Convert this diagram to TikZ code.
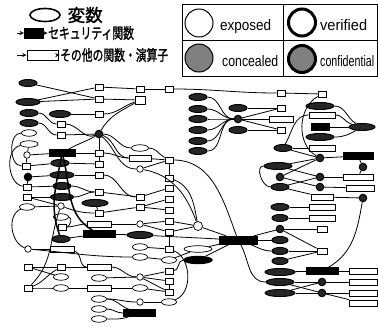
\documentclass[tikz,border=0pt]{standalone}
\usepackage{graphicx}
\usepackage{fontspec}
\setmainfont{Liberation Sans}
\newfontfamily\jpfont[FakeBold=1.6]{Noto Sans CJK JP}
\usetikzlibrary{shapes.geometric}
\newcommand{\sqz}[1]{\scalebox{0.72}[1]{#1}}

\begin{document}
\begin{tikzpicture}[x=1pt, y=-1pt, >=stealth,
    fn/.style={draw, fill=white, line width=0.8pt, minimum width=8pt, minimum height=6pt, inner sep=0pt},
    fnw/.style={fn, minimum width=24pt},
    sec/.style={draw, fill=black, minimum width=28pt, minimum height=7pt, inner sep=0pt},
    wv/.style={ellipse, draw, fill=white, line width=0.7pt, minimum width=15pt, minimum height=6.5pt, inner sep=0pt},
    dv/.style={ellipse, draw, fill=black!85, line width=1pt, minimum width=18pt, minimum height=7pt, inner sep=0pt},
    wc/.style={circle, draw, fill=white, line width=0.7pt, minimum size=6.5pt, inner sep=0pt},
    dc/.style={circle, draw, fill=black!85, line width=1pt, minimum size=7.5pt, inner sep=0pt},
    jp/.style={font=\jpfont\fontsize{15}{15}\selectfont, inner sep=0.5pt, anchor=west},
    lgcirc/.style={circle, draw, line width=1pt, minimum size=28pt, inner sep=0pt},
    lglabel/.style={anchor=base west, inner sep=0pt}]
    \useasboundingbox (0,0) rectangle (378,327);

    % legend
    \node[ellipse, draw, line width=1.6pt, minimum width=30pt, minimum height=13pt] (lgvar) at (45,15) {};
    \node[jp, font=\jpfont\fontsize{17.5}{17.5}\selectfont] (lgvartxt) at (67,15) {変数};
    \coordinate (lgin1) at (17,33);
    \node[draw, fill=black, minimum width=19pt, minimum height=10pt, inner sep=0pt] (lgsec) at (33.5,33) {};
    \node[jp] (lgsectxt) at (47.5,33) {\sqz{セキュリティ関数}};
    \coordinate (lgin2) at (17,55);
    \node[draw, line width=1pt, minimum width=31pt, minimum height=10pt, inner sep=0pt] (lgfn) at (42.5,55) {};
    \node[jp] (lgfntxt) at (59.5,55) {\sqz{その他の関数・演算子}};
    \draw[->, line width=0.9pt] (lgin1) -- (lgsec);
    \draw[->, line width=0.9pt] (lgsec) -- (lgsectxt);
    \draw[->, line width=0.9pt] (lgin2) -- (lgfn);
    \draw[->, line width=0.9pt] (lgfn) -- (lgfntxt);

    \draw[line width=1pt] (182,4) rectangle (377,76);
    \draw[line width=0.8pt] (283,4) -- (283,76);
    \draw[line width=0.8pt] (182,40) -- (377,40);
    \node[lgcirc] (lgexp) at (199,23) {};
    \node[lgcirc, line width=3pt, minimum size=27pt] (lgver) at (302,22.5) {};
    \node[lgcirc, fill=black!50] (lgcon) at (199,58) {};
    \node[lgcirc, fill=black!50, line width=3pt, minimum size=27pt] (lgconf) at (302,59) {};
    \node[lglabel] (lgexptxt) at (220,30) {\resizebox{51pt}{11pt}{exposed}};
    \node[lglabel] (lgvertxt) at (320,30) {\resizebox{47pt}{11pt}{verified}};
    \node[lglabel] (lgcontxt) at (222,66) {\resizebox{56pt}{11pt}{concealed}};
    \node[lglabel] (lgconftxt) at (320,66) {\resizebox{54pt}{11pt}{confidential}};

    % column a
    \node[dv] (a1) at (28,83) {};
    \node[dv, minimum width=24pt] (a2) at (28,102) {};
    \node[dv] (a3) at (29,113) {};
    \node[dv] (a4) at (29,123) {};
    \node[wv] (a5) at (29,133) {};
    \node[wv, minimum width=18pt] (a6) at (29,144) {};
    \node[wc] (a7) at (27,155) {};
    \node[fn] (a8) at (26,166) {};
    \node[dc, fill=black] (a9) at (28,177) {};
    \node[fn] (a10) at (27,187) {};
    \node[fn] (a11) at (27,197) {};
    \node[wv] (a12) at (27,207) {};
    \node[wc] (a13) at (28,249) {};
    \node[fn] (a14) at (28,267) {};
    \node[fn] (a15) at (28,288) {};

    % column b
    \node[dv, minimum width=21pt] (b1) at (60,114) {};
    \node[fn] (b2) at (61,124) {};
    \node[fn] (b3) at (61,135) {};
    \node[sec, minimum width=26pt] (b4) at (62,153) {};
    \node[dv] (b5) at (60,163) {};
    \node[dv, minimum width=24pt] (b6) at (62,175) {};
    \node[dv] (b7) at (62,186) {};
    \node[dv, minimum width=23pt] (b8) at (62,197) {};
    \node[wc] (b9) at (61,206) {};
    \node[wv] (b10) at (61,217) {};
    \node[fn] (b11) at (62,227) {};
    \node[dv] (b12) at (61,239) {};
    \node[fnw] (b13) at (62,249) {};
    \node[fn] (b14) at (61,267) {};
    \node[wv] (b15) at (61,277) {};
    \node[wv] (b16) at (61,288) {};

    % column c
    \node[fn] (c1) at (99,87) {};
    \node[fn] (c2) at (99,99) {};
    \node[fn] (c3) at (99,114) {};
    \node[dc] (c4) at (99,134) {};
    \node[fn] (c5) at (99,153) {};
    \node[fn] (c6) at (99,164) {};
    \node[fn] (c7) at (99,175) {};
    \node[fn] (c8) at (99,192) {};
    \node[dv, minimum width=26pt] (c9) at (95,203) {};
    \node[fn] (c10) at (99,213) {};
    \node[fnw] (c11) at (99,224) {};
    \node[sec, minimum width=32pt] (c12) at (99,234) {};
    \node[fnw] (c13) at (99,267) {};
    \node[wv] (c14) at (99,278) {};
    \node[fnw] (c15) at (99,288) {};
    \node[wv] (c16) at (99,299) {};
    \node[wv] (c17) at (99,309) {};
    \node[wv] (c18) at (99,319) {};

    % column d
    \node[fn] (d1) at (140,89) {};
    \node[fn, minimum width=10pt, minimum height=8pt] (d2) at (140,100) {};
    \node[wv, minimum width=17pt] (d3) at (140,148) {};
    \node[fnw, minimum width=22pt] (d4) at (140,158) {};
    \node[wc] (d5) at (140,169) {};
    \node[fn] (d6) at (140,197) {};
    \node[fn] (d7) at (140,207) {};
    \node[wc] (d8) at (140,224) {};
    \node[dv, minimum width=26pt] (d9) at (140,235) {};
    \node[wv] (d10) at (140,247) {};
    \node[wv] (d11) at (140,257) {};
    \node[wc] (d12) at (140,277) {};
    \node[wv] (d13) at (140,288) {};
    \node[wc] (d14) at (140,302) {};
    \node[sec, minimum width=32pt] (d15) at (139,313) {};

    % column e
    \node[fn] (e1) at (169,89) {};
    \node[fn] (e2) at (169,160) {};
    \node[fn] (e3) at (169,178) {};
    \node[fn] (e4) at (169,188) {};
    \node[fn] (e5) at (169,199) {};
    \node[fn] (e6) at (169,210) {};
    \node[fn] (e7) at (169,221) {};
    \node[fn] (e8) at (169,232) {};
    \node[fn] (e9) at (169,249) {};
    \node[wv] (e10) at (169,260) {};
    \node[fn] (e11) at (169,271) {};
    \node[fn] (e12) at (169,281) {};
    \node[fn] (e13) at (169,292) {};
    \node[wv] (e14) at (169,302) {};

    % middle
    \node[dv] (f1) at (198,97) {};
    \node[dv] (f2) at (198,109) {};
    \node[dv] (f3) at (198,119) {};
    \node[dv] (f4) at (198,130) {};
    \node[dv] (f5) at (198,141) {};
    \node[dv] (f6) at (198,151) {};
    \node[dv] (f7) at (238,108) {};
    \node[dc] (f8) at (238,119) {};
    \node[dv] (f9) at (238,130) {};
    \node[wc, minimum size=9pt] (f10) at (198,226) {};
    \node[sec, minimum width=38pt, minimum height=8pt] (f11) at (238,240) {};
    \node[wv, minimum width=28pt] (f12) at (198,249) {};
    \node[dv, fill=black, line width=1.4pt, minimum width=28pt] (f13) at (198,260) {};

    % column g
    \node[fn] (g1) at (281,93) {};
    \node[fn] (g2) at (281,108) {};
    \node[fnw] (g3) at (281,119) {};
    \node[fn] (g4) at (281,130) {};
    \node[dv] (g5) at (283,148) {};
    \node[dv, minimum width=28pt] (g6) at (278,166) {};
    \node[dc] (g7) at (280,177) {};
    \node[dv] (g8) at (280,187) {};
    \node[dv] (g9) at (280,207) {};
    \node[dv, minimum width=16pt] (g10) at (280,218) {};
    \node[dc] (g11) at (280,229) {};
    \node[dv, minimum width=16pt] (g12) at (280,240) {};
    \node[dv, minimum width=16pt] (g13) at (280,251) {};
    \node[dv, minimum width=16pt] (g14) at (280,261) {};
    \node[dv, minimum width=30pt] (g15) at (280,272) {};
    \node[dv, minimum width=28pt] (g16) at (280,282) {};
    \node[dv, minimum width=30pt] (g17) at (280,293) {};

    % column h
    \node[fn] (h1) at (322,94) {};
    \node[dv, minimum width=28pt] (h2) at (320,106) {};
    \node[fnw, minimum width=26pt] (h3) at (322,115) {};
    \node[sec, minimum width=18pt] (h4) at (320,127) {};
    \node[dv, minimum width=28pt] (h5) at (320,137) {};
    \node[fnw, minimum width=26pt] (h6) at (322,148) {};
    \node[dc] (h7) at (320,158) {};
    \node[dc] (h8) at (320,177) {};
    \node[dc] (h9) at (320,187) {};
    \node[fnw, minimum width=22pt] (h10) at (322,197) {};
    \node[fnw, minimum width=26pt] (h11) at (322,207) {};
    \node[fnw, minimum width=26pt] (h12) at (322,218) {};
    \node[fn, minimum width=10pt] (h13) at (322,229) {};
    \node[fn, minimum width=10pt] (h14) at (322,251) {};
    \node[sec, minimum width=32pt] (h15) at (322,271) {};
    \node[dc] (h16) at (322,282) {};
    \node[dc] (h17) at (322,293) {};

    % column i
    \node[dv, minimum width=26pt] (i1) at (362,127) {};
    \node[sec, minimum width=30pt] (i2) at (358,156) {};
    \node[dc] (i3) at (363,167) {};
    \node[fnw, minimum width=30pt] (i4) at (358,177) {};
    \node[fnw, minimum width=28pt] (i5) at (360,188) {};
    \node[dc] (i6) at (363,198) {};
    \node[fnw, minimum width=28pt] (i7) at (363,271) {};
    \node[fnw, minimum width=28pt] (i8) at (363,282) {};
    \node[fnw, minimum width=28pt] (i9) at (363,293) {};
    \node[fnw, minimum width=28pt] (i10) at (363,303) {};

    \begin{scope}[line width=0.8pt]
    % top left
    \draw (a1) -- (c2);
    \draw (a2) -- (c1);
    \draw (a2) -- (c2);
    \draw (a3) to[out=0,in=180] (b2);
    \draw (a4) to[out=0,in=180] (b3);
    \draw (b1) -- (c3);
    \draw (b2) to[out=0,in=200] (c4);
    \draw (b3) -- (c4);
    \draw (c1) -- (d1);
    \draw (c2) -- (d2);
    \draw (c3) to[out=0,in=200] (d2);
    \draw (d2) to[out=-150,in=60] (c4);
    \draw (d1) -- (e1);
    \draw (e1) to[out=0,in=180] (g1);
    \draw (g1) -- (h1);
    % left part
    \draw (a5) to[out=180,in=180] (a8);
    \draw (a6) to[out=190,in=170] (a10);
    \draw (a6) -- (a7);
    \draw (a7) -- (b4);
    \draw (a7) -- (a8);
    \draw (a8) -- (b5);
    \draw (a9) -- (b6);
    \draw (a9) -- (a10);
    \draw (a10) -- (b7);
    \draw (a11) -- (b8);
    \draw (a11) -- (b9);
    \draw (a12) -- (b9);
    \draw (a12) to[out=200,in=160] (a13);
    \draw (b9) to[out=-110,in=45] (a15);
    \draw (c4) -- (c5);
    \draw (c4) to[out=-20,in=180] (d4);
    \draw (c4) to[out=0,in=180] (d3);
    \draw (c4) to[out=-40,in=180] (d5);
    \draw (c4) to[out=-150,in=30] (b4);
    \draw (b4) -- (c5);
    \draw (b5) -- (c6);
    \draw (b6) -- (c7);
    \draw (b7) to[out=0,in=180] (c8);
    \draw (b8) to[out=0,in=180] (c8);
    \draw (c5) to[out=0,in=180] (d4);
    \draw (c6) -- (c5);
    \draw (c8) -- (d6);
    \draw (c7) to[out=0,in=180] (d6);
    \draw (b9) to[out=-20,in=180] (c10);
    \draw (c9) -- (c10);
    \draw (b10) to[out=0,in=0] (b11);
    \draw (b11) to[out=0,in=180] (c11);
    \draw (c10) -- (d7);
    \draw (c11) -- (d8);
    \draw (b12) -- (c12);
    \draw (c12) -- (d9);
    \draw (a13) -- (b13);
    \draw (b13) to[out=-10,in=180] (c13);
    \draw (a13) to[out=-5,in=180] (d11);
    \draw (a14) -- (b14);
    \draw (a14) -- (b15);
    \draw (a15) to[out=0,in=180] (b16);
    \draw (a15) to[out=20,in=-150] (b14);
    \draw (b14) -- (c13);
    \draw (b16) -- (c15);
    \draw (c13) to[out=0,in=180] (d12);
    \draw (c14) -- (d12);
    \draw (c15) -- (d13);
    \draw (c16) to[out=0,in=180] (d14);
    \draw (c16) to[out=0,in=160] (d15);
    \draw (c17) to[out=0,in=180] (d15);
    \draw (c18) to[out=0,in=200] (d15);
    \draw[line width=1.5pt] (b4) to[out=-100,in=110] (b12);
    \draw[line width=1.5pt] (b4) to[out=-75,in=150] (c12);
    % middle part
    \draw (d3) to[out=0,in=150] (e2);
    \draw (d4) -- (e2);
    \draw (d5) -- (e2);
    \draw (e2) -- (e3);
    \draw (e2) to[out=0,in=110] (f11);
    \draw (d5) to[out=-10,in=110] (f10);
    \draw (e3) to[out=-20,in=100] (f10);
    \draw (d6) -- (e4);
    \draw (d7) -- (e5);
    \draw (d7) -- (e6);
    \draw (d8) -- (e7);
    \draw (d8) -- (e8);
    \draw (e7) -- (f10);
    \draw (e8) -- (f10);
    \draw (e8) -- (e9);
    \draw (f10) -- (f11);
    \draw (d9) -- (f11);
    \draw (d10) -- (e9);
    \draw (d11) -- (e10);
    \draw (e9) to[out=-20,in=20] (e14);
    \draw (f11) -- (f12);
    \draw (f11) -- (f13);
    \draw (f12) -- (e10);
    \draw (f13) to[out=180,in=0] (e11);
    \draw (d12) -- (e11);
    \draw (d12) -- (e12);
    \draw (d12) -- (e13);
    \draw (d13) -- (e13);
    \draw (e12) -- (e13);
    \draw (d14) -- (e14);
    \foreach \v in {f1,f2,f3,f4,f5,f6}
        \draw (\v) to[out=0,in=180] (f8);
    \draw (f7) -- (g2);
    \draw (f8) -- (g3);
    \draw (f9) -- (g4);
    \draw (f8) -- (g2);
    \draw (f8) -- (g4);
    % right part
    \draw (h1) to[out=-150,in=150] (h7);
    \draw (h2) to[out=0,in=150] (i1);
    \draw (h3) to[out=0,in=165] (i1);
    \draw (h4) -- (i1);
    \draw (h5) to[out=0,in=-150] (i1);
    \draw (g5) to[out=60,in=180] (h3);
    \draw (g5) -- (h6);
    \draw (g5) -- (h7);
    \draw (h7) -- (i2);
    \draw (i2) -- (i3);
    \draw (i3) -- (i4);
    \draw (g6) -- (h7);
    \draw (g6) -- (h8);
    \draw (g7) -- (h7);
    \draw (g7) -- (h9);
    \draw (g8) -- (h8);
    \draw (g8) -- (h10);
    \draw (g6) to[out=180,in=180] (g8);
    \draw (h8) -- (i4);
    \draw (h9) -- (i5);
    \draw (h10) -- (i6);
    \draw (i6) to[out=-100,in=30] (h15);
    \draw (g9) -- (h11);
    \draw (g10) -- (h12);
    \draw (g11) -- (h13);
    \draw (g11) -- (h14);
    \draw (g13) -- (h14);
    \draw (g14) -- (h14);
    \draw (f11) -- (g11);
    \draw (f11) -- (g12);
    \draw (f11) to[out=-20,in=180] (g13);
    \draw (f11) to[out=-60,in=180] (g16);
    \draw (g15) -- (h15);
    \draw (g16) -- (h16);
    \draw (g16) -- (h17);
    \draw (g17) -- (h16);
    \draw (g17) -- (h17);
    \draw (h15) -- (i7);
    \draw (h16) -- (i8);
    \draw (h17) -- (i9);
    \draw (h17) -- (i10);
    \end{scope}
\end{tikzpicture}
\end{document}
